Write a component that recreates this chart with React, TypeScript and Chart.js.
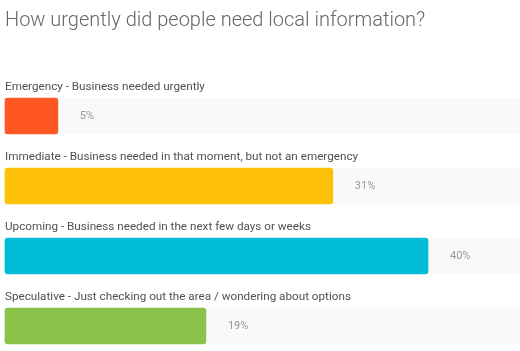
import React, { useEffect, useRef } from "react";
import { Chart, registerables } from "chart.js";

Chart.register(...registerables);

const TITLE = "How urgently did people need local information?";
const categories = [
  "Emergency - Business needed urgently",
  "Immediate - Business needed in that moment, but not an emergency",
  "Upcoming - Business needed in the next few days or weeks",
  "Speculative - Just checking out the area / wondering about options",
];
const values = [5, 31, 40, 19];
const colors = ["#FF5722", "#FFC107", "#00BCD4", "#8BC34A"];
const AXIS_MAX = 48.7;
const trackValues = categories.map(() => AXIS_MAX);

const labelsPlugin = {
  id: "barLabels",
  afterDatasetsDraw(chart: any) {
    const ctx = chart.ctx;
    const meta = chart.getDatasetMeta(1);
    ctx.save();
    meta.data.forEach((bar: any, i: number) => {
      const top = bar.y - bar.height / 2;
      ctx.font = "11.7px Roboto";
      ctx.fillStyle = "#505050";
      ctx.textAlign = "left";
      ctx.textBaseline = "alphabetic";
      ctx.fillText(categories[i], 5, top - 8.5);
      ctx.font = "11px Roboto";
      ctx.fillStyle = "#999999";
      ctx.textBaseline = "middle";
      ctx.fillText(values[i] + "%", bar.x + 22, bar.y + 0.5);
    });
    ctx.restore();
  },
};

export default function App() {
  const ref = useRef<HTMLCanvasElement>(null);
  useEffect(() => {
    const chart = new Chart(ref.current!, {
      type: "bar",
      data: {
        labels: categories,
        datasets: [
          {
            data: trackValues,
            backgroundColor: "#f8f9fa",
            barThickness: 36,
            grouped: false,
            order: 2,
            clip: false,
          } as any,
          {
            data: values,
            backgroundColor: colors,
            barThickness: 36,
            borderRadius: 3,
            borderSkipped: false,
            grouped: false,
            order: 1,
            clip: false,
          } as any,
        ],
      },
      options: {
        indexAxis: "y",
        animation: false,
        responsive: false,
        layout: { padding: { top: 0, left: 5, right: 0, bottom: 25 } },
        scales: {
          x: { display: false, min: 0, max: AXIS_MAX },
          y: { display: false, offset: false },
        },
        plugins: {
          legend: { display: false },
          tooltip: { enabled: false },
          title: {
            display: true,
            text: TITLE,
            align: "start",
            color: "#666666",
            font: { family: "Roboto", size: 20, weight: "300" as any, lineHeight: 1.2 },
            padding: { top: 9, bottom: 116 - 9 - 24 },
          },
        },
      },
      plugins: [labelsPlugin],
    });
    return () => chart.destroy();
  }, []);
  return (
    <div style={{ position: "fixed", left: 0, top: 0, width: 520, height: 351, background: "#fff" }}>
      <canvas ref={ref} width={520} height={351} style={{ display: "block" }} />
    </div>
  );
}
